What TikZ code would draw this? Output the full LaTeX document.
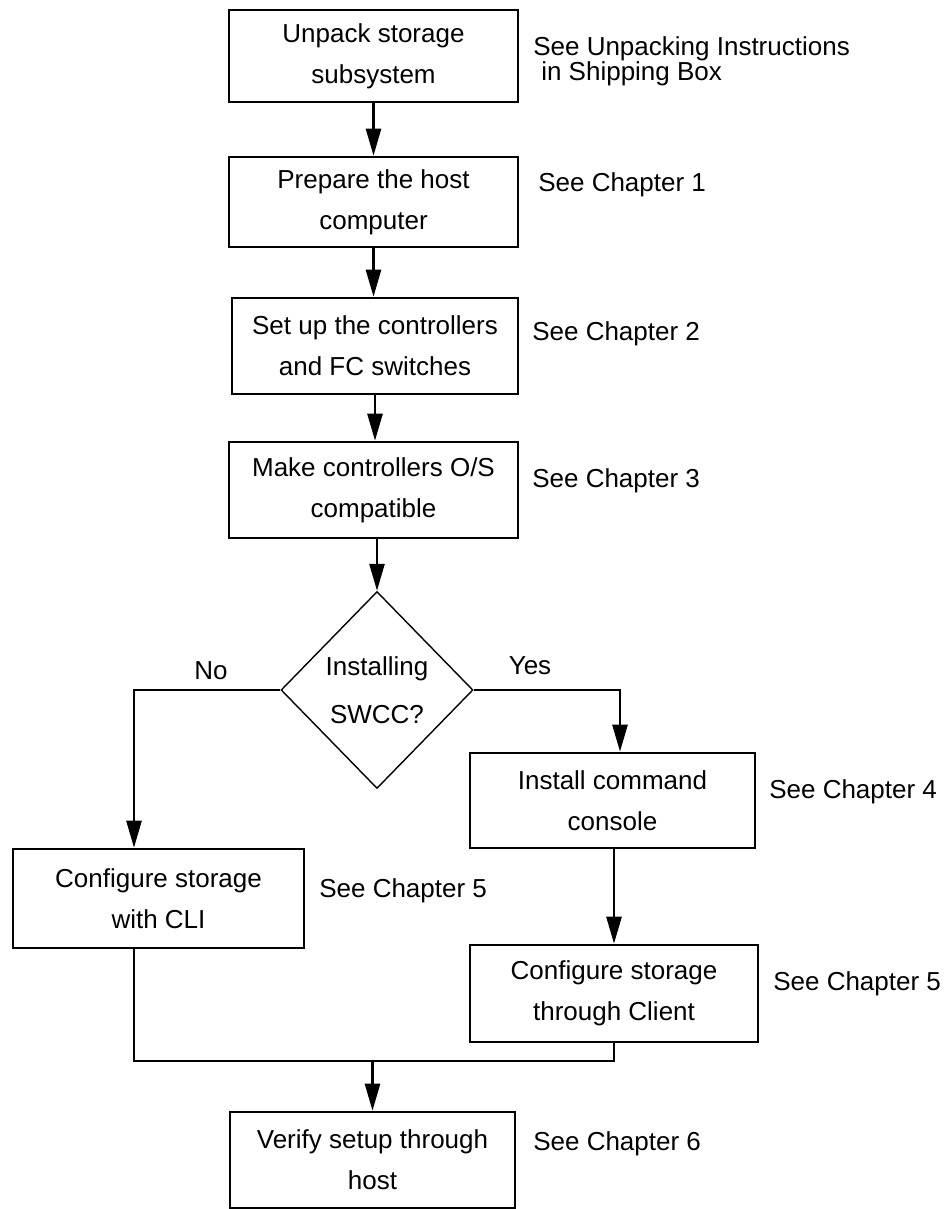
\documentclass[tikz,border=0pt]{standalone}
\usepackage{fontspec}
\setmainfont{Liberation Sans}
\usetikzlibrary{shapes.geometric,arrows.meta}

\tikzset{every picture/.style={line width=2.6pt}}
\tikzset{
  stepbox/.style={draw, rectangle, align=center, inner sep=0pt, font=\fontsize{26}{41}\selectfont},
  decision/.style={draw, diamond, line width=1.4pt, align=center, inner sep=0pt,
    minimum width=192pt, minimum height=197pt, font=\fontsize{26}{48}\selectfont},
  seenote/.style={anchor=base west, inner sep=0pt, font=\fontsize{26}{24}\selectfont},
  branchlabel/.style={anchor=base, inner sep=0pt, font=\fontsize{26}{30}\selectfont},
  flow/.style={-{Triangle[length=27pt,width=15pt]}},
}

\begin{document}
\begin{tikzpicture}[x=1pt,y=1pt,yscale=-1]
\useasboundingbox (0,0) rectangle (949,1209);

% Step boxes
\node[stepbox, minimum width=289pt, minimum height=92pt] (unpack) at (373.5,56) {Unpack storage\\subsystem};
\node[stepbox, minimum width=289pt, minimum height=90pt] (prepare) at (373.5,202) {Prepare the host\\computer};
\node[stepbox, minimum width=286pt, minimum height=96pt] (setup) at (375,346) {Set up the controllers\\and FC switches};
\node[stepbox, minimum width=289pt, minimum height=96pt] (makeos) at (373.5,490) {Make controllers O/S\\compatible};
\node[decision] (swcc) at (377,690) {Installing\\SWCC?};
\node[stepbox, minimum width=291pt, minimum height=99pt] (cli) at (158.5,898.5) {Configure storage\\with CLI};
\node[stepbox, minimum width=285pt, minimum height=95pt] (console) at (612.5,800.5) {Install command\\console};
\node[stepbox, minimum width=288pt, minimum height=97pt] (client) at (614,993.5) {Configure storage\\through Client};
\node[stepbox, minimum width=285pt, minimum height=96pt] (verify) at (372.5,1160) {Verify setup through\\host};

% Bends
\coordinate (nobend) at (134,690);
\coordinate (yesbend) at (620,690);
\coordinate (joinL) at (134,1061);
\coordinate (joinR) at (614,1061);

% Connectors
\draw[flow] (unpack) -- (prepare);
\draw[flow] (prepare.south) -- (prepare.south |- setup.north);
\draw[flow] (setup.south) -- (setup.south |- makeos.north);
\draw[flow] (swcc.north |- makeos.south) -- (swcc.north);
\draw[flow] (swcc.west) -- (nobend) -- (nobend |- cli.north);
\draw[flow] (swcc.east) -- (yesbend) -- (yesbend |- console.north);
\draw[flow] (client.north |- console.south) -- (client.north);
\draw (nobend |- cli.south) -- (joinL) -- (joinR) -- (client.south);
\draw[flow] (joinL -| verify.north) -- (verify.north);

% Text Node
\node[branchlabel] (nolabel) at (211,679) {No};
\node[branchlabel] (yeslabel) at (530,674) {Yes};
% Text Node
\node[seenote, anchor=north west, align=left] (unpacknote) at (532,35) {See Unpacking Instructions\\\hspace*{8pt}in Shipping Box};
\node[seenote] (chone) at (537,192) {See Chapter 1};
\node[seenote] (chtwo) at (531,340) {See Chapter 2};
\node[seenote] (chthree) at (531,487) {See Chapter 3};
\node[seenote] (chfour) at (768,798) {See Chapter 4};
\node[seenote] (chfiveL) at (318,897) {See Chapter 5};
\node[seenote] (chfiveR) at (772,990) {See Chapter 5};
\node[seenote] (chsix) at (532,1150) {See Chapter 6};
\end{tikzpicture}
\end{document}
